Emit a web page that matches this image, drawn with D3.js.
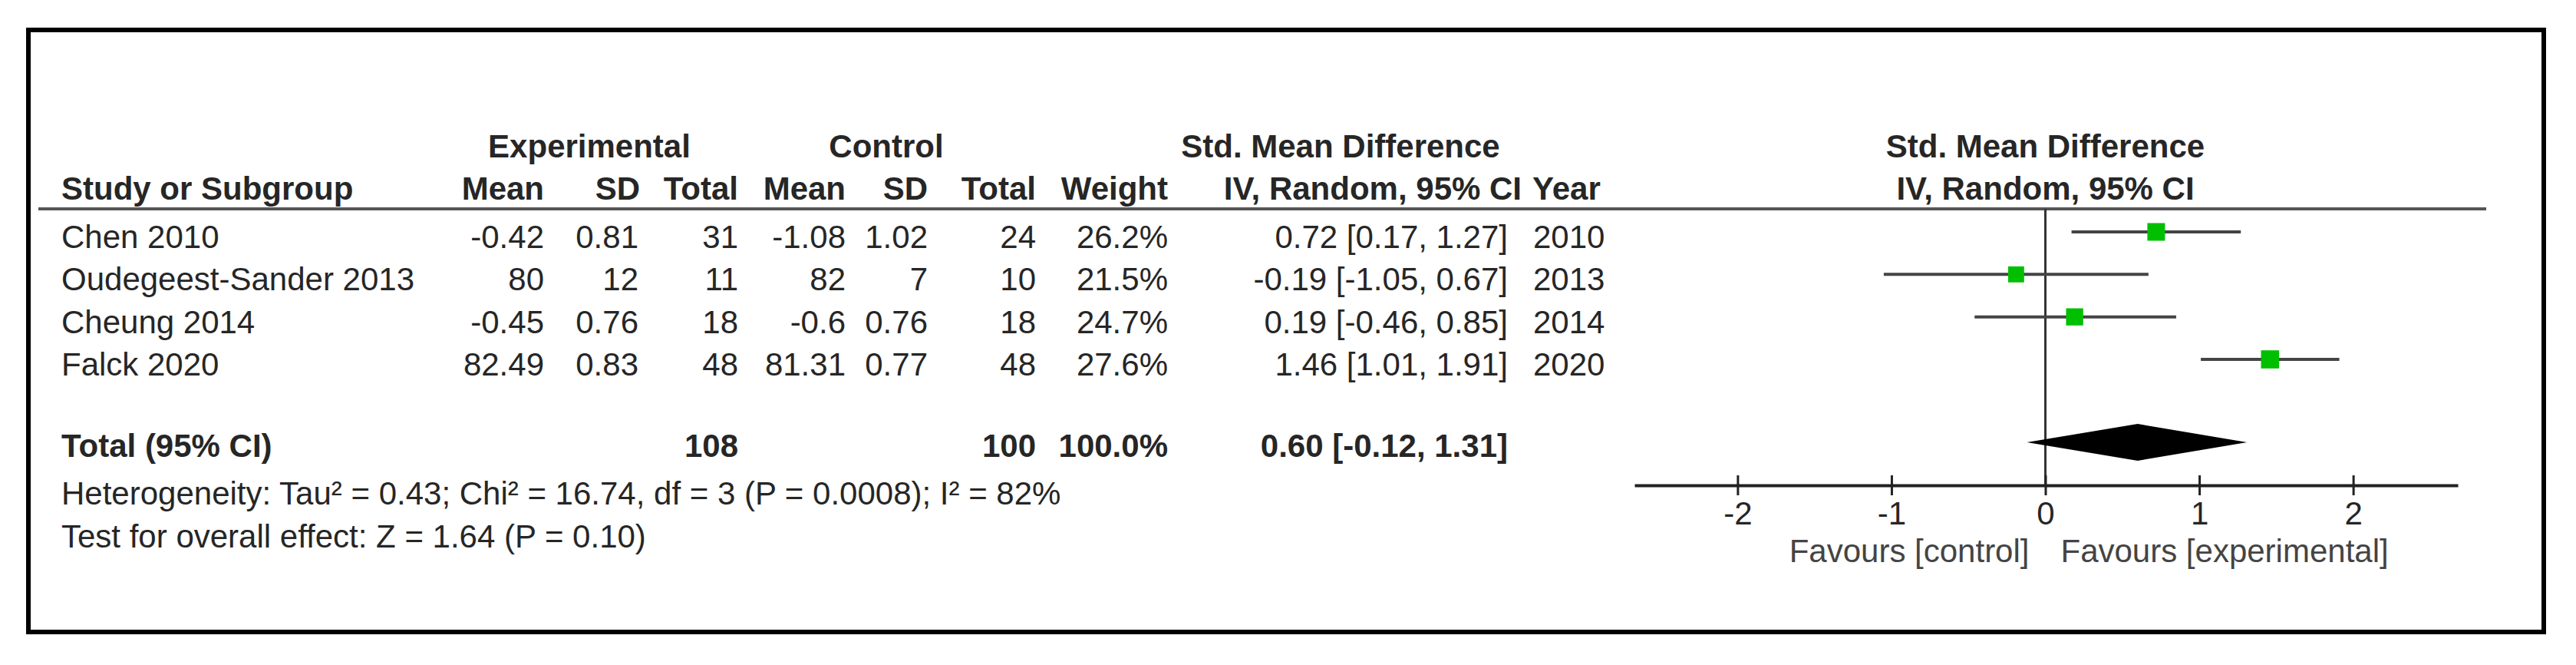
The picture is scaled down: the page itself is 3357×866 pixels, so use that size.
<!DOCTYPE html>
<html>
<head>
<meta charset="utf-8">
<script src="https://cdn.jsdelivr.net/npm/d3@7"></script>
<style>
html,body{margin:0;padding:0;background:#fff;}
svg{display:block;}
text{font-family:"Liberation Sans",Arial,sans-serif;}
</style>
</head>
<body>
<svg id="chart" width="3357" height="866"></svg>
<script>
// ---- data ----
const studies   = ["Chen 2010", "Oudegeest-Sander 2013", "Cheung 2014", "Falck 2020"];
const expMean   = [-0.42, 80, -0.45, 82.49];
const expSD     = [0.81, 12, 0.76, 0.83];
const expTotal  = [31, 11, 18, 48];
const ctrlMean  = [-1.08, 82, -0.6, 81.31];
const ctrlSD    = [1.02, 7, 0.76, 0.77];
const ctrlTotal = [24, 10, 18, 48];
const weights   = [26.2, 21.5, 24.7, 27.6];
const smd       = [0.72, -0.19, 0.19, 1.46];
const ciLow     = [0.17, -1.05, -0.46, 1.01];
const ciHigh    = [1.27, 0.67, 0.85, 1.91];
const years     = [2010, 2013, 2014, 2020];
const totalExp = 108, totalCtrl = 100, totalWeight = 100.0;
const pooled = [0.60, -0.12, 1.31];   // estimate, low, high
const xTicks = [-2, -1, 0, 1, 2];
const heterogeneityText = "Heterogeneity: Tau\u00B2 = 0.43; Chi\u00B2 = 16.74, df = 3 (P = 0.0008); I\u00B2 = 82%";
const overallText = "Test for overall effect: Z = 1.64 (P = 0.10)";
const favLeft = "Favours [control]", favRight = "Favours [experimental]";

// ---- layout ----
const svg = d3.select("#chart");
const FS = 42;
const textCol = "#262626";
const f2 = v => v.toFixed(2);
const ciStr = (e, l, h) => `${f2(e)} [${f2(l)}, ${f2(h)}]`;

const y = d3.scalePoint().domain(studies).range([323, 489]);
const yTotal = 595;
const x = d3.scaleLinear().domain([-2.67, 2.68]).range([2130, 3203]);
const sq = d3.scaleSqrt().domain([0, 30]).range([0, 24.6]);

// border
svg.append("rect").attr("x", 37).attr("y", 39).attr("width", 3278).attr("height", 784)
  .attr("fill", "none").attr("stroke", "#000").attr("stroke-width", 6);

function txt(xp, yp, s, anchor, bold, color) {
  return svg.append("text").attr("x", xp).attr("y", yp).text(s)
    .attr("text-anchor", anchor || "start")
    .attr("font-size", FS)
    .attr("font-weight", bold ? "bold" : "normal")
    .attr("fill", color || textCol);
}

// column headers
const hdr1 = 205, hdr2 = 260;
txt(768, hdr1, "Experimental", "middle", true);
txt(1155, hdr1, "Control", "middle", true);
txt(1747, hdr1, "Std. Mean Difference", "middle", true);
txt(x(0), hdr1, "Std. Mean Difference", "middle", true);

const cols = [
  {x: 709, h: "Mean"}, {x: 834, h: "SD"}, {x: 962, h: "Total"},
  {x: 1102, h: "Mean"}, {x: 1209, h: "SD"}, {x: 1350, h: "Total"},
  {x: 1522, h: "Weight"}, {x: 1983, h: "IV, Random, 95% CI"}
];
txt(80, hdr2, "Study or Subgroup", "start", true);
cols.forEach(c => txt(c.x, hdr2, c.h, "end", true));
txt(1997, hdr2, "Year", "start", true);
txt(x(0), hdr2, "IV, Random, 95% CI", "middle", true);

// header rule
svg.append("line").attr("x1", 50).attr("x2", 3240).attr("y1", 272).attr("y2", 272)
  .attr("stroke", "#555").attr("stroke-width", 4);

// study rows
studies.forEach((s, i) => {
  const yy = y(s);
  txt(80, yy, s);
  txt(709, yy, String(expMean[i]), "end");
  txt(832, yy, String(expSD[i]), "end");
  txt(962, yy, String(expTotal[i]), "end");
  txt(1102, yy, String(ctrlMean[i]), "end");
  txt(1209, yy, String(ctrlSD[i]), "end");
  txt(1350, yy, String(ctrlTotal[i]), "end");
  txt(1522, yy, weights[i].toFixed(1) + "%", "end");
  txt(1965, yy, ciStr(smd[i], ciLow[i], ciHigh[i]), "end");
  txt(1998, yy, String(years[i]), "start");
});

// totals
txt(80, yTotal, "Total (95% CI)", "start", true);
txt(962, yTotal, String(totalExp), "end", true);
txt(1350, yTotal, String(totalCtrl), "end", true);
txt(1522, yTotal, totalWeight.toFixed(1) + "%", "end", true);
txt(1965, yTotal, ciStr(pooled[0], pooled[1], pooled[2]), "end", true);
txt(80, 657, heterogeneityText);
txt(80, 713, overallText);

// forest plot
const axisY = 632;
svg.append("line").attr("x1", x(0)).attr("x2", x(0)).attr("y1", 272).attr("y2", axisY)
  .attr("stroke", "#333").attr("stroke-width", 3);

const g = svg.append("g");
studies.forEach((s, i) => {
  const cy = y(s) - 21;
  g.append("line").attr("x1", x(ciLow[i])).attr("x2", x(ciHigh[i]))
    .attr("y1", cy).attr("y2", cy).attr("stroke", "#444").attr("stroke-width", 4);
  const side = sq(weights[i]);
  g.append("rect").attr("x", x(smd[i]) - side / 2).attr("y", cy - side / 2)
    .attr("width", side).attr("height", side).attr("fill", "#00bf00");
});

// pooled diamond
const dy = yTotal - 19, dh = 24;
svg.append("path")
  .attr("d", `M${x(pooled[1])},${dy} L${x(pooled[0])},${dy - dh} L${x(pooled[2])},${dy} L${x(pooled[0])},${dy + dh} Z`)
  .attr("fill", "#000");

// axis
const axis = d3.axisBottom(x).tickValues(xTicks).tickFormat(d => String(d)).tickSizeOuter(0).tickSizeInner(13);
const ag = svg.append("g").attr("transform", `translate(0,${axisY})`).call(axis);
ag.select(".domain").attr("stroke", "#222").attr("stroke-width", 4);
ag.selectAll(".tick line").attr("y1", -13).attr("y2", 13).attr("stroke", "#222").attr("stroke-width", 3);
ag.selectAll(".tick text").attr("y", 51).attr("dy", 0).attr("font-size", FS)
  .attr("font-family", "Liberation Sans, Arial, sans-serif").attr("fill", textCol);

// favours labels
txt(x(0) - 21, 732, favLeft, "end", false, "#444");
txt(x(0) + 20, 732, favRight, "start", false, "#444");
</script>
</body>
</html>
